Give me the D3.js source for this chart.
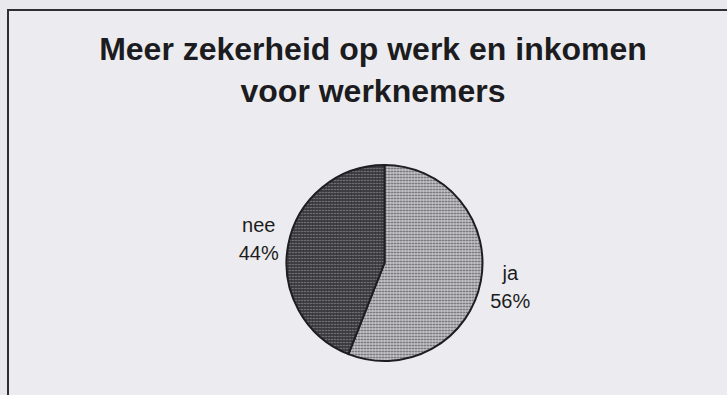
<!DOCTYPE html>
<html>
<head>
<meta charset="UTF-8">
<title>Meer zekerheid op werk en inkomen</title>
<script src="https://d3js.org/d3.v7.min.js"></script>
<style>
  body { margin: 0; background: #e9e9ed; }
  svg { display: block; }
  .title { font-family: "Liberation Sans", Arial, sans-serif; font-weight: bold; font-size: 32px; fill: #1c1c20; }
  .lbl { font-family: "Liberation Sans", Arial, sans-serif; font-size: 20px; fill: #1c1c20; }
</style>
</head>
<body>
<script>
// chart data
var titleLines = ["Meer zekerheid op werk en inkomen", "voor werknemers"];
var categories = ["ja", "nee"];
var values = [56, 44];
var fills = ["url(#dotsLight)", "url(#dotsDark)"];

var width = 727, height = 395;
var cx = 384.5, cy = 263, radius = 98;

var svg = d3.select("body").append("svg")
    .attr("width", width)
    .attr("height", height);

var defs = svg.append("defs");

// halftone-ish stipple patterns
var light = defs.append("pattern")
    .attr("id", "dotsLight")
    .attr("patternUnits", "userSpaceOnUse")
    .attr("width", 3).attr("height", 3);
light.append("rect").attr("width", 3).attr("height", 3).attr("fill", "#c9c9cd");
light.append("circle").attr("cx", 1.5).attr("cy", 1.5).attr("r", 1).attr("fill", "#5a5a60");

var dark = defs.append("pattern")
    .attr("id", "dotsDark")
    .attr("patternUnits", "userSpaceOnUse")
    .attr("width", 3).attr("height", 3);
dark.append("rect").attr("width", 3).attr("height", 3).attr("fill", "#38383e");
dark.append("circle").attr("cx", 1.5).attr("cy", 1.5).attr("r", 0.8).attr("fill", "#8c8c94");

// paper background + frame
svg.append("rect")
    .attr("width", width).attr("height", height)
    .attr("fill", "#e9e9ed");

svg.append("rect")
    .attr("x", 8).attr("y", 10)
    .attr("width", 740).attr("height", 400)
    .attr("fill", "#ececf0")
    .attr("stroke", "#2e2e33")
    .attr("stroke-width", 2);

// title
svg.selectAll(".title")
    .data(titleLines)
    .enter().append("text")
    .attr("class", "title")
    .attr("x", 373)
    .attr("y", function(d, i) { return 60 + i * 42; })
    .attr("text-anchor", "middle")
    .text(function(d) { return d; });

// pie
var pie = d3.pie().sort(null).value(function(d) { return d; });
var arcs = pie(values);

var arc = d3.arc().innerRadius(0).outerRadius(radius);
var labelArc = d3.arc().innerRadius(128).outerRadius(128);

var g = svg.append("g").attr("transform", "translate(" + cx + "," + cy + ")");

g.selectAll("path")
    .data(arcs)
    .enter().append("path")
    .attr("d", arc)
    .attr("fill", function(d, i) { return fills[i]; })
    .attr("stroke", "#1e1e22")
    .attr("stroke-width", 2)
    .attr("stroke-linejoin", "round");

var labels = g.selectAll(".lbl")
    .data(arcs)
    .enter().append("text")
    .attr("class", "lbl")
    .attr("text-anchor", "middle")
    .attr("transform", function(d) {
        var c = labelArc.centroid(d);
        return "translate(" + c[0] + "," + c[1] + ")";
    });

labels.append("tspan")
    .attr("x", 0).attr("y", -7)
    .text(function(d, i) { return categories[i]; });

labels.append("tspan")
    .attr("x", 0).attr("y", 21)
    .text(function(d) { return d.data + "%"; });
</script>
</body>
</html>
